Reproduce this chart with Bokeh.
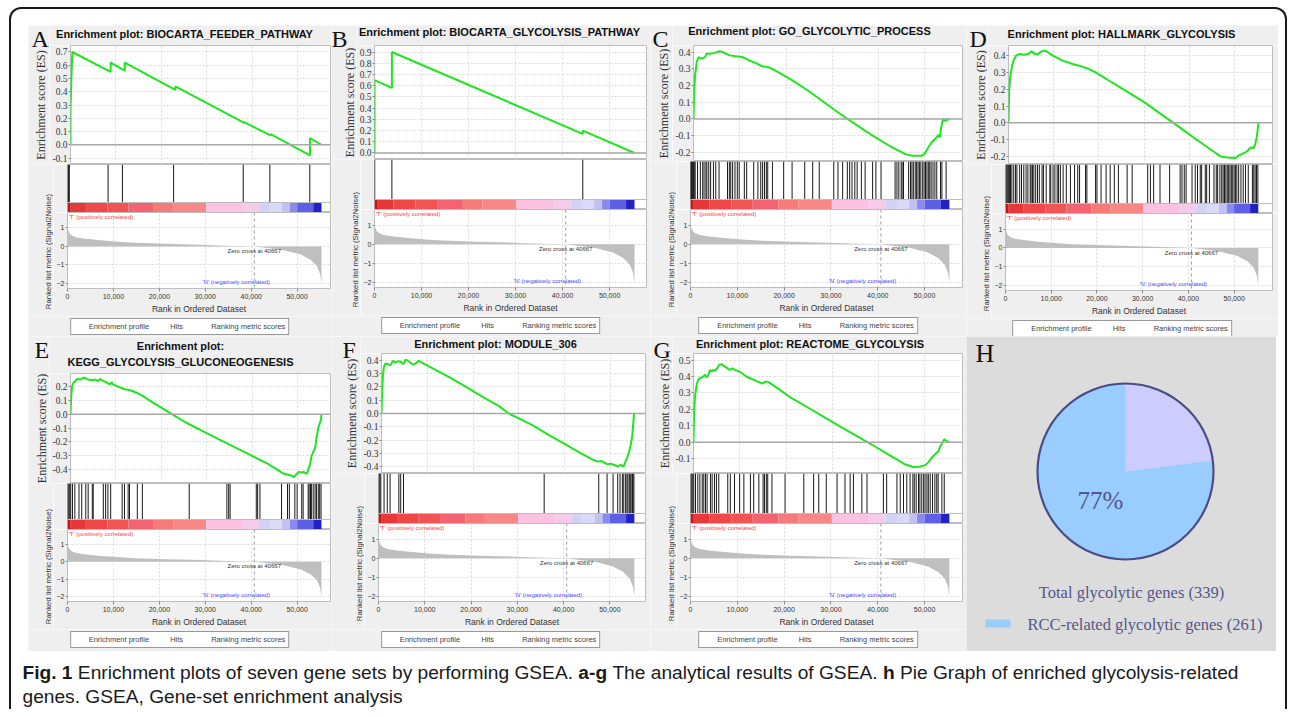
import numpy as np
from bokeh.plotting import figure
from bokeh.models import (Range1d, Label, Legend, LegendItem, FixedTicker,
                          PrintfTickFormatter, NumeralTickFormatter, Span, Spacer)
from bokeh.layouts import column, row
from bokeh.embed import file_html
from bokeh.resources import INLINE
from bokeh.core.properties import value

# ------------------------------------------------------------------ data
N_GENES = 55300
ZERO_CROSS = 40667
X_TICKS = [0, 10000, 20000, 30000, 40000, 50000]

# ranked list metric (Signal2Noise), rank in thousands
metric_rank_k = [0, 0.1, 0.3, 0.6, 1.0, 2.0, 3.6, 7.2, 10.9, 14.5, 21.7, 29.0, 36.0,
                 40.667, 43.5, 47.0, 50.7, 52.9, 54.3, 55.0, 55.3]
metric_value = [1.13, 0.95, 0.78, 0.66, 0.58, 0.49, 0.43, 0.33, 0.26, 0.20, 0.14, 0.09, 0.03,
                0.0, -0.09, -0.20, -0.43, -0.72, -1.06, -1.5, -2.0]

# heat-map bar under the hits (edges in thousands)
heat_edges_k = [0, 0.7, 4.0, 8.7, 13.3, 18.8, 23.0, 30.2, 38.2, 41.7, 44.1, 46.7, 48.4, 50.0, 53.5, 55.3]
heat_colors = ["#cc1414", "#e63838", "#f04848", "#f05454", "#f26472", "#f77a7a", "#f88888",
               "#fbc2e2", "#f6cbe9", "#d2d2f5", "#dadaf8", "#c2c2f2", "#8a8aee", "#5f5fe6", "#2222c4"]

A_name = "BIOCARTA_FEEDER_PATHWAY"
A_es_k = [0, 0.0, 0.2, 0.4, 8.84, 8.84, 11.96, 11.96, 23.1, 23.1, 38.26, 38.26, 44.06, 44.06, 52.75, 52.75, 55.3]
A_es = [0, 0.27, 0.5, 0.70, 0.55, 0.62, 0.56, 0.62, 0.415, 0.44, 0.165, 0.17, 0.07, 0.08, -0.08, 0.05, 0.0]
A_hits_k = [0.1, 0.25, 0.4, 8.84, 11.96, 23.1, 38.26, 44.06, 52.75]

B_name = "BIOCARTA_GLYCOLYSIS_PATHWAY"
B_es_k = [0, 0, 3.7, 3.7, 44.3, 44.3, 55.3]
B_es = [0, 0.65, 0.58, 0.90, 0.17, 0.20, 0.0]
B_hits_k = [0.05, 3.7, 44.3]

C_name = "GO_GLYCOLYTIC_PROCESS"
C_es_k = [0, 0.15, 0.35, 0.7, 1.1, 1.8, 2.5, 2.8, 3.5, 4.6, 5.6, 6.3, 7.8, 9.2, 10.6, 12.0, 13.4, 14.8,
          16.2, 17.6, 21.1, 24.7, 28.2, 31.7, 35.2, 38.7, 42.3, 45.8, 47.2, 49.3, 50.0, 50.7, 51.4,
          52.5, 52.8, 53.2, 53.5, 53.9, 54.3, 55.3]
C_es = [0, 0.18, 0.26, 0.34, 0.37, 0.36, 0.37, 0.39, 0.39, 0.395, 0.405, 0.40, 0.38, 0.375, 0.37, 0.35,
        0.335, 0.315, 0.31, 0.29, 0.235, 0.17, 0.10, 0.03, -0.035, -0.10, -0.16, -0.21, -0.22, -0.22,
        -0.205, -0.17, -0.14, -0.11, -0.095, -0.11, -0.05, 0.0, -0.01, 0.0]
C_hits_k = [0.05, 0.15, 0.25, 0.35, 0.5, 0.65, 0.8, 1.0, 1.5, 2.1, 2.6, 2.9, 3.3, 3.5, 3.9, 4.3, 4.9, 5.4,
            6.1, 7.9, 8.3, 8.6, 9.0, 9.5, 10.0, 10.4, 11.5, 12.0, 13.5, 14.4, 15.0, 15.4, 15.8, 16.2,
            16.5, 17.5, 19.9, 21.7, 24.4, 26.1, 27.5, 30.6, 31.5, 32.5, 33.5, 34.0, 34.5, 35.1, 35.6,
            36.5, 37.3, 38.9, 39.6, 40.7, 43.7, 44.1, 44.5, 45.0, 45.2, 45.5, 46.6, 47.0, 47.3, 47.6,
            48.0, 48.3, 48.6, 48.9, 49.2, 49.6, 49.9, 50.2, 50.5, 50.8, 51.1, 51.4, 51.8, 52.2, 52.6,
            53.4, 53.7, 54.6]

D_name = "HALLMARK_GLYCOLYSIS"
D_es_k = [0, 0.15, 0.36, 0.73, 1.1, 1.7, 2.5, 3.3, 4.4, 5.1, 5.8, 6.6, 7.3, 8.0, 8.7, 9.8, 12.0, 14.2,
          15.6, 17.8, 19.3, 22.9, 26.6, 30.2, 33.8, 37.5, 41.1, 44.8, 46.9, 48.4, 50.2, 50.9, 52.0,
          52.8, 53.5, 54.2, 54.6, 55.0, 55.3]
D_es = [0, 0.19, 0.27, 0.33, 0.37, 0.40, 0.41, 0.405, 0.41, 0.425, 0.41, 0.41, 0.425, 0.43, 0.42, 0.40,
        0.37, 0.35, 0.34, 0.32, 0.30, 0.24, 0.18, 0.12, 0.05, -0.02, -0.09, -0.16, -0.20, -0.207,
        -0.21, -0.195, -0.18, -0.17, -0.147, -0.15, -0.127, -0.07, 0.0]
D_hits_k = [0.1, 0.3, 0.5, 0.7, 0.9, 1.1, 1.4, 1.8, 2.2, 2.5, 3.1, 3.5, 4.0, 4.5, 4.9, 5.4, 5.6, 5.9, 6.2,
            6.6, 7.0, 7.4, 8.0, 8.3, 8.9, 9.7, 9.9, 10.4, 10.8, 11.3, 11.6, 12.0, 12.6, 13.3, 14.2,
            15.1, 15.8, 16.2, 17.5, 17.8, 19.7, 20.0, 20.9, 22.0, 22.9, 23.8, 24.7, 26.6, 27.7, 31.1,
            31.7, 32.4, 33.8, 35.9, 38.2, 38.6, 39.1, 39.5, 40.8, 41.5, 42.0, 42.6, 42.9, 43.7, 44.0,
            44.6, 45.6, 46.1, 46.4, 46.9, 47.3, 47.6, 47.9, 48.2, 48.5, 48.8, 49.1, 49.4, 49.7, 50.0,
            50.3, 50.6, 51.0, 51.5, 52.0, 52.5, 53.1, 54.0, 54.3, 54.6, 54.9, 55.2]

E_name = "KEGG_GLYCOLYSIS_GLUCONEOGENESIS"
E_es_k = [0, 0.14, 0.36, 0.72, 1.08, 1.45, 2.17, 2.89, 3.98, 4.7, 5.42, 6.15, 6.5, 7.23, 7.95, 8.68,
          9.04, 9.4, 10.12, 11.93, 13.0, 14.46, 15.9, 18.08, 21.7, 25.3, 28.9, 32.5, 36.15, 39.8,
          43.4, 47.0, 48.4, 49.2, 50.25, 50.98, 51.3, 52.06, 52.8, 53.1, 53.9, 54.2, 54.6, 55.1, 55.3]
E_es = [0, 0.12, 0.205, 0.23, 0.24, 0.255, 0.25, 0.265, 0.25, 0.245, 0.25, 0.24, 0.255, 0.24, 0.23,
        0.215, 0.23, 0.215, 0.205, 0.18, 0.175, 0.157, 0.133, 0.085, 0.013, -0.058, -0.118, -0.178,
        -0.237, -0.297, -0.357, -0.43, -0.44, -0.453, -0.417, -0.42, -0.417, -0.43, -0.357, -0.30,
        -0.24, -0.166, -0.094, -0.046, 0.0]
E_hits_k = [0.1, 0.3, 0.5, 0.7, 1.08, 1.6, 2.5, 3.1, 3.98, 4.5, 5.4, 5.6, 7.8, 8.3, 8.8, 9.4, 11.9, 12.4,
            13.2, 13.5, 15.2, 16.3, 26.5, 34.7, 35.1, 35.4, 41.1, 41.4, 41.9, 46.6, 47.9, 48.3, 49.5,
            50.0, 51.0, 51.3, 52.4, 52.6, 52.9, 53.1, 53.5, 53.9, 54.2, 54.6, 54.9, 55.2]

F_name = "MODULE_306"
F_es_k = [0, 0.14, 0.29, 0.5, 0.86, 1.22, 1.44, 1.94, 2.5, 3.0, 3.4, 4.1, 4.8, 5.2, 5.5, 7.0, 7.7, 8.1,
          8.8, 11.3, 14.9, 18.5, 22.1, 25.7, 27.8, 32.9, 36.5, 40.1, 43.7, 46.5, 47.3, 48.0, 49.4,
          50.1, 50.9, 51.6, 52.3, 52.9, 53.2, 53.7, 54.1, 54.5, 54.8, 55.0, 55.2, 55.3]
F_es = [0, 0.17, 0.27, 0.345, 0.375, 0.37, 0.37, 0.36, 0.395, 0.38, 0.39, 0.39, 0.37, 0.40, 0.40,
        0.365, 0.38, 0.395, 0.38, 0.335, 0.27, 0.20, 0.125, 0.055, 0.0, -0.085, -0.16, -0.23, -0.30,
        -0.35, -0.36, -0.355, -0.38, -0.375, -0.385, -0.397, -0.385, -0.397, -0.37, -0.33, -0.29,
        -0.23, -0.17, -0.085, 0.0, 0.0]
F_hits_k = [0.1, 0.3, 0.5, 1.2, 1.9, 2.5, 4.4, 4.8, 5.4, 35.8, 47.6, 49.4, 50.7, 51.7, 52.2, 52.7, 53.0,
            53.4, 53.7, 53.9, 54.2, 54.4, 54.6, 54.9, 55.0, 55.2]

G_name = "REACTOME_GLYCOLYSIS"
G_es_k = [0, 0.14, 0.36, 0.71, 1.07, 1.56, 2.0, 2.5, 2.84, 3.2, 3.55, 3.9, 4.26, 4.62, 5.12, 5.54, 6.04,
          6.54, 7.1, 7.8, 8.4, 8.9, 9.95, 11.4, 13.5, 14.9, 15.6, 16.3, 17.8, 21.3, 24.9, 28.4, 32.0,
          35.5, 39.1, 42.6, 45.5, 47.6, 49.0, 50.1, 50.8, 51.5, 52.2, 52.9, 53.3, 53.7, 54.2, 54.6, 55.3]
G_es = [0, 0.2, 0.285, 0.354, 0.383, 0.393, 0.397, 0.41, 0.393, 0.41, 0.44, 0.43, 0.44, 0.435, 0.45,
        0.47, 0.475, 0.465, 0.455, 0.44, 0.45, 0.44, 0.43, 0.40, 0.373, 0.357, 0.37, 0.364, 0.335,
        0.266, 0.208, 0.15, 0.09, 0.033, -0.025, -0.084, -0.133, -0.153, -0.148, -0.14, -0.12,
        -0.094, -0.074, -0.055, -0.026, -0.006, 0.018, 0.007, 0.0]
G_hits_k = [0.1, 0.3, 0.5, 0.7, 1.07, 1.56, 2.0, 2.5, 2.84, 3.2, 3.55, 4.26, 4.62, 5.12, 5.54, 6.04, 7.96,
            8.5, 9.4, 10.5, 11.4, 12.8, 13.5, 14.6, 15.5, 15.8, 16.2, 16.5, 17.4, 20.2, 24.2, 26.3,
            27.4, 29.0, 31.3, 33.0, 34.1, 34.8, 36.6, 37.7, 41.2, 41.9, 44.1, 44.8, 45.5, 46.2, 46.9,
            47.5, 47.8, 48.2, 48.7, 49.0, 49.4, 49.8, 50.1, 50.5, 50.8, 51.2, 51.7, 52.2, 52.6, 52.9,
            53.7, 54.2]

# pie (panel H)
pie_total_label = "Total glycolytic genes"
pie_total = 339
pie_rcc_label = "RCC-related glycolytic genes"
pie_rcc = 261

caption_line1 = [("Fig. 1", True), ("Enrichment plots of seven gene sets by performing GSEA.", False),
                 ("a-g", True), ("The analytical results of GSEA.", False), ("h", True),
                 ("Pie Graph of enriched glycolysis-related", False)]
caption_line2 = "genes. GSEA, Gene-set enrichment analysis"

# ------------------------------------------------------------------ style
SANS = "Liberation Sans"
SERIF = "Liberation Serif"
PANEL_BG = "#efefef"
FRAME = "#bdbdbd"
GRID = "#d9d9d9"
GREEN = "#1ee61e"
COMMON = dict(output_backend="svg", toolbar_location=None)
ES_AXIS_W = 18          # room kept for the ES tick labels
RANK_AXIS_W = 14        # room kept for the ranked-metric tick labels


def plain_fig(w, h, xr, yr, bg):
    f = figure(width=w, height=h, x_range=xr, y_range=yr, min_border=0,
               x_axis_location=None, y_axis_location=None, frame_align=False,
               background_fill_color=bg, border_fill_color=bg, outline_line_color=None, **COMMON)
    f.grid.visible = False
    return f


def style_axis(ax, font, tick_size, label_size, color="#333333"):
    ax.axis_line_color = None
    ax.major_tick_line_color = "#888888"
    ax.major_tick_out = 2
    ax.major_tick_in = 0
    ax.minor_tick_line_color = None
    ax.major_label_text_font = font
    ax.major_label_text_font_size = tick_size
    ax.major_label_text_color = color
    ax.axis_label_text_font = font
    ax.axis_label_text_font_size = label_size
    ax.axis_label_text_font_style = "normal"
    ax.axis_label_text_color = color
    ax.major_label_standoff = 1
    ax.axis_label_standoff = 3


def gsea_panel(letter, name, es_k, es_v, hits_k, g):
    pw, bl, br = g["pw"], g["bl"], g["br"]
    ls = bl - ES_AXIS_W                # left strip next to the ES plot (letter + ES axis title)
    rw = bl - RANK_AXIS_W              # left strip next to the ranked plot (its axis title)
    xr = Range1d(0, g["x_end"])
    th, efh = g["th"], g["es_fh"]

    # ---- left strip: panel letter + vertical ES title
    lsf = plain_fig(ls, th + efh, Range1d(0, ls), Range1d(0, th + efh), PANEL_BG)
    lsf.text(x=[g["lx"]], y=[th + efh - 13.5], text=[letter], text_font=value(SERIF),
             text_font_size="24px", text_align="left", text_baseline="middle", text_color="#111111")
    lsf.text(x=[g["ex"]], y=[efh / 2], text=["Enrichment score (ES)"], angle=np.pi / 2,
             text_font=value(SERIF), text_font_size="12px", text_align="center",
             text_baseline="middle", text_color="#333333")

    # ---- title strip
    tf = plain_fig(pw - ls, th, Range1d(0, pw - ls), Range1d(th, 0), PANEL_BG)
    lines = g.get("title_lines", ["Enrichment plot: " + name])
    tf.text(x=[g["tx"] - ls] * len(lines), y=g["ty"], text=lines, text_font=value(SANS),
            text_font_style="bold", text_font_size="11px", text_align="center",
            text_baseline="middle", text_color="#111111")

    # ---- running enrichment score
    es = figure(width=pw - ls, height=efh, min_border_top=0, min_border_bottom=0,
                min_border_left=ES_AXIS_W, min_border_right=br, x_range=xr,
                y_range=Range1d(*g["es_y"]), x_axis_location=None,
                border_fill_color=PANEL_BG, background_fill_color="white",
                outline_line_color=FRAME, **COMMON)
    lo, hi = g["es_ticks"]
    es_ticks = list(np.round(np.arange(lo, hi + 0.001, 0.1), 1) + 0.0)
    es.yaxis.ticker = FixedTicker(ticks=es_ticks)
    es.ygrid.ticker = FixedTicker(ticks=es_ticks)
    es.xgrid.ticker = FixedTicker(ticks=X_TICKS)
    es.yaxis.formatter = PrintfTickFormatter(format="%.1f")
    style_axis(es.yaxis[0], SERIF, "9.5px", "12px")
    for gr in (es.xgrid[0], es.ygrid[0]):
        gr.grid_line_color = GRID
        gr.grid_line_dash = "2 2"
    es.add_layout(Span(location=0, dimension="width", line_color="#a8a8a8", line_width=1.5))
    es.line(x=np.array(es_k) * 1000, y=es_v, line_color=GREEN, line_width=2)

    # ---- hits + heat bar
    hh = g["hits_h"] + g["cb_h"]
    cb_top = g["cb_h"] / hh
    sub = dict(width=pw - rw, min_border_left=RANK_AXIS_W, min_border_right=br, x_range=xr,
               border_fill_color=PANEL_BG, background_fill_color="white",
               outline_line_color=FRAME, **COMMON)
    hf = figure(height=hh, min_border_top=0, min_border_bottom=0, y_range=Range1d(0, 1),
                x_axis_location=None, y_axis_location=None, **sub)
    hf.grid.visible = False
    hk = np.array(hits_k) * 1000
    hf.segment(x0=hk, y0=cb_top, x1=hk, y1=1, line_color="#1a1a1a", line_width=1)
    he = np.array(heat_edges_k) * 1000
    hf.quad(left=he[:-1], right=he[1:], bottom=0, top=cb_top, fill_color=heat_colors, line_color=None)
    hf.add_layout(Span(location=cb_top, dimension="width", line_color=FRAME, line_width=1))

    # ---- ranked list metric
    rank_h = g["rank_fh"] + g["rank_bb"]
    y_lo, y_hi = -2.28, 1.84
    rf = figure(height=rank_h, min_border_top=0, min_border_bottom=g["rank_bb"],
                y_range=Range1d(y_lo, y_hi), **sub)
    rf.varea(x=np.array(metric_rank_k) * 1000, y1=0, y2=metric_value, fill_color="#bfbfbf")
    rf.add_layout(Span(location=ZERO_CROSS, dimension="height", line_color="#9a9a9a",
                       line_dash="3 3", line_width=1))
    rf.xaxis.ticker = FixedTicker(ticks=X_TICKS)
    rf.xgrid.ticker = FixedTicker(ticks=X_TICKS)
    rf.xaxis.formatter = NumeralTickFormatter(format="0,0")
    rf.xaxis.axis_label = "Rank in Ordered Dataset"
    rf.yaxis.ticker = FixedTicker(ticks=[-2, -1, 0, 1])
    rf.ygrid.ticker = FixedTicker(ticks=[-2, -1, 0, 1])
    style_axis(rf.xaxis[0], SANS, "7px", "8.5px")
    style_axis(rf.yaxis[0], SANS, "7px", "8px")
    rf.xaxis[0].major_tick_out = 3
    rf.xaxis[0].major_label_standoff = 2
    rf.xaxis[0].axis_label_standoff = 2
    for gr in (rf.xgrid[0], rf.ygrid[0]):
        gr.grid_line_color = GRID
        gr.grid_line_dash = "2 2"
    rf.add_layout(Label(x=250, y=y_hi - 0.08, text="'T' (positively correlated)", text_font=SANS,
                        text_font_size="6px", text_color="#ff3b3b", text_baseline="top"))
    rf.add_layout(Label(x=36700, y=-1.93, text="'N' (negatively correlated)", text_font=SANS,
                        text_font_size="6px", text_color="#4a4aff", text_align="center",
                        text_baseline="middle"))
    rf.add_layout(Label(x=ZERO_CROSS, y=-0.27, text=f"Zero cross at {ZERO_CROSS}", text_font=SANS,
                        text_font_size="6px", text_color="#333333", text_align="center",
                        text_baseline="middle"))

    # ---- strip with the vertical ranked-metric title
    sh = hh + rank_h
    sf = plain_fig(rw, sh, Range1d(0, rw), Range1d(0, sh), PANEL_BG)
    sf.text(x=[rw - 5], y=[g["rank_bb"] + g["rank_fh"] / 2], text=["Ranked list metric (Signal2Noise)"],
            angle=np.pi / 2, text_font=value(SANS), text_font_size="7.8px", text_align="center",
            text_baseline="middle", text_color="#333333")

    # ---- legend strip
    lh = g["leg_h"]
    lf = plain_fig(pw, lh, Range1d(0, 1), Range1d(0, 1), PANEL_BG)
    r1 = lf.line(x=[], y=[], line_color=GREEN, line_width=2)
    r2 = lf.line(x=[], y=[], line_color="#555555", line_width=1.5)
    r3 = lf.line(x=[], y=[], line_color="#d0d0d0", line_width=1.5)
    leg = Legend(items=[LegendItem(label="Enrichment profile", renderers=[r1]),
                        LegendItem(label="Hits", renderers=[r2]),
                        LegendItem(label="Ranking metric scores", renderers=[r3])],
                 orientation="horizontal", location="top_center", border_line_color="#333333",
                 label_text_font=SANS, label_text_font_size="7.5px", glyph_width=12, glyph_height=8,
                 label_standoff=3, padding=3, spacing=6, margin=2, label_height=8,
                 background_fill_color="white")
    lf.add_layout(leg)

    return column(row(lsf, column(tf, es)), row(sf, column(hf, rf)), lf)


# ------------------------------------------------------------------ panel geometry
geoA = dict(pw=303, bl=39, br=1, x_end=57260, th=20, es_fh=119, es_y=(-0.149, 0.749), es_ticks=(-0.1, 0.7),
            hits_h=38, cb_h=10, rank_fh=78, rank_bb=26, leg_h=20, tx=156, ty=[8], lx=3, ex=12)
geoB = dict(pw=319, bl=43, br=4, x_end=57850, th=20, es_fh=114, es_y=(-0.058, 0.958), es_ticks=(0.0, 0.9),
            hits_h=40, cb_h=10, rank_fh=80, rank_bb=26, leg_h=21, tx=168, ty=[6.5], lx=0, ex=18.5)
geoC = dict(pw=316, bl=40, br=4, x_end=58100, th=20, es_fh=116, es_y=(-0.254, 0.439), es_ticks=(-0.2, 0.4),
            hits_h=38, cb_h=10, rank_fh=80, rank_bb=26, leg_h=21, tx=159, ty=[5.5], lx=2, ex=13.5)
geoD = dict(pw=312, bl=39, br=6, x_end=58400, th=20, es_fh=119, es_y=(-0.248, 0.46), es_ticks=(-0.2, 0.4),
            hits_h=39, cb_h=10, rank_fh=80, rank_bb=25, leg_h=18, tx=155, ty=[8], lx=3, ex=14)
geoE = dict(pw=303, bl=39, br=1, x_end=57260, th=37, es_fh=110, es_y=(-0.50, 0.294), es_ticks=(-0.4, 0.2),
            hits_h=36, cb_h=10, rank_fh=74, rank_bb=26, leg_h=22, tx=152, ty=[9, 25], lx=6, ex=13.5,
            title_lines=["Enrichment plot:", E_name])
geoF = dict(pw=319, bl=47, br=5, x_end=57700, th=17, es_fh=120, es_y=(-0.449, 0.449), es_ticks=(-0.4, 0.4),
            hits_h=40, cb_h=10, rank_fh=80, rank_bb=26, leg_h=22, tx=164, ty=[7], lx=11, ex=20.5)
geoG = dict(pw=316, bl=40, br=4, x_end=58100, th=17, es_fh=120, es_y=(-0.191, 0.540), es_ticks=(-0.1, 0.5),
            hits_h=40, cb_h=10, rank_fh=80, rank_bb=26, leg_h=22, tx=159.5, ty=[7], lx=3, ex=14)

pA = gsea_panel("A", A_name, A_es_k, A_es, A_hits_k, geoA)
pB = gsea_panel("B", B_name, B_es_k, B_es, B_hits_k, geoB)
pC = gsea_panel("C", C_name, C_es_k, C_es, C_hits_k, geoC)
pD = gsea_panel("D", D_name, D_es_k, D_es, D_hits_k, geoD)
pE = gsea_panel("E", E_name, E_es_k, E_es, E_hits_k, geoE)
pF = gsea_panel("F", F_name, F_es_k, F_es, F_hits_k, geoF)
pG = gsea_panel("G", G_name, G_es_k, G_es, G_hits_k, geoG)

# ---- panel H: pie
H_BG = "#dcdcdc"
ph = plain_fig(310, 315, Range1d(-159, 151), Range1d(-180, 135), H_BG)
counts = np.array([pie_total - pie_rcc, pie_rcc], dtype=float)
angles = 90 - np.concatenate([[0], np.cumsum(counts)]) / pie_total * 360
ph.wedge(x=0, y=0, radius=88, radius_units="screen",
         start_angle=np.deg2rad(angles[:-1]), end_angle=np.deg2rad(angles[1:]),
         direction="clock", fill_color=["#ccccff", "#99ccff"], line_color=None)
ph.circle(x=[0], y=[0], radius=88, radius_units="screen", fill_color=None,
          line_color="#4b4b87", line_width=2.2)
TXT = "#55558a"
ph.text(x=[-150], y=[118], text=["H"], text_font=value(SERIF), text_font_size="26px",
        text_baseline="middle", text_color="#111111")
ph.text(x=[-25], y=[-29], text=[f"{round(pie_rcc / pie_total * 100)}%"], text_font=value(SERIF),
        text_font_size="25px", text_color=TXT, text_align="center", text_baseline="middle")
ph.text(x=[6], y=[-121], text=[f"{pie_total_label} ({pie_total})"], text_font=value(SERIF),
        text_font_size="16.5px", text_color=TXT, text_align="center", text_baseline="middle")
ph.rect(x=[-127.5], y=[-152], width=25, height=8, width_units="screen", height_units="screen",
        fill_color="#99ccff", line_color=None)
ph.text(x=[-98], y=[-153], text=[f"{pie_rcc_label} ({pie_rcc})"], text_font=value(SERIF),
        text_font_size="16.5px", text_color=TXT, text_align="left", text_baseline="middle")

# ---- caption (Liberation Sans has Arial metrics: lay the bold/regular pieces out in sequence)
AR = {' ': 278, '.': 278, ',': 278, '-': 333, '1': 556, 'A': 667, 'E': 667, 'F': 611, 'G': 778,
      'P': 667, 'S': 667, 'T': 611, 'a': 556, 'b': 556, 'c': 500, 'd': 556, 'e': 556, 'f': 278,
      'g': 556, 'h': 556, 'i': 222, 'j': 222, 'k': 500, 'l': 222, 'm': 833, 'n': 556, 'o': 556,
      'p': 556, 'q': 556, 'r': 333, 's': 500, 't': 278, 'u': 556, 'v': 500, 'w': 722, 'x': 500,
      'y': 500, 'z': 500}
ARB = {' ': 278, '.': 278, '-': 333, '1': 556, 'F': 611, 'a': 556, 'g': 611, 'h': 611, 'i': 278}


def text_em(s, bold):
    table = ARB if bold else AR
    return sum(table.get(ch, 556) for ch in s) / 1000.0


CW = 1274
X0 = 11
LINE1_W = 1216
total_em = sum(text_em(t, b) for t, b in caption_line1) + (len(caption_line1) - 1) * 0.278
cap_px = LINE1_W / total_em
xs, x = [], X0
for t, b in caption_line1:
    xs.append(x)
    x += (text_em(t, b) + 0.278) * cap_px

cap = plain_fig(CW, 58, Range1d(0, CW), Range1d(58, 0), "white")
bold_idx = [i for i, (_, b) in enumerate(caption_line1) if b]
norm_idx = [i for i, (_, b) in enumerate(caption_line1) if not b]
cap.text(x=[xs[i] for i in bold_idx], y=[21] * len(bold_idx), text=[caption_line1[i][0] for i in bold_idx],
         text_font=value(SANS), text_font_style="bold", text_font_size=f"{cap_px:.2f}px",
         text_color="#1a1a1a", text_baseline="middle")
cap.text(x=[xs[i] for i in norm_idx] + [X0], y=[21] * len(norm_idx) + [45],
         text=[caption_line1[i][0] for i in norm_idx] + [caption_line2],
         text_font=value(SANS), text_font_size=f"{cap_px:.2f}px",
         text_color="#1a1a1a", text_baseline="middle")

row1 = row(Spacer(width=17, height=10), pA, pB, pC, pD, Spacer(width=7, height=10))
row2 = row(Spacer(width=17, height=10), pE, pF, pG, ph, Spacer(width=9, height=10))
framed = column(Spacer(width=10, height=16), row1, row2, cap,
                styles={"border-top": "2px solid #1a1a1a", "border-left": "2px solid #1a1a1a",
                        "border-right": "2px solid #1a1a1a", "border-top-left-radius": "12px",
                        "border-top-right-radius": "12px"})
page = column(Spacer(width=10, height=7), row(Spacer(width=9, height=10), framed))

open("out.html", "w").write(file_html(page, INLINE))
